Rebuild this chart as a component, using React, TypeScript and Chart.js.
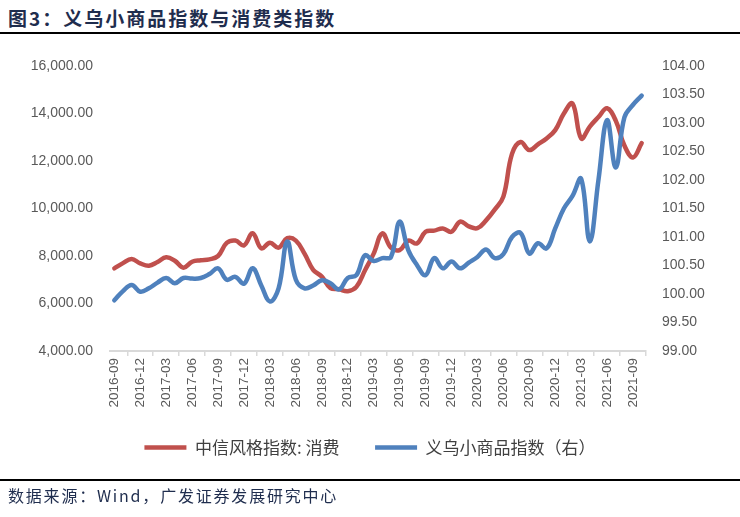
import React, { useEffect, useRef } from "react";
import { Chart, registerables } from "chart.js";

Chart.register(...registerables);

const months = [
  "2016-09", "2016-10", "2016-11", "2016-12",
  "2017-01", "2017-02", "2017-03", "2017-04", "2017-05", "2017-06",
  "2017-07", "2017-08", "2017-09", "2017-10", "2017-11", "2017-12",
  "2018-01", "2018-02", "2018-03", "2018-04", "2018-05", "2018-06",
  "2018-07", "2018-08", "2018-09", "2018-10", "2018-11", "2018-12",
  "2019-01", "2019-02", "2019-03", "2019-04", "2019-05", "2019-06",
  "2019-07", "2019-08", "2019-09", "2019-10", "2019-11", "2019-12",
  "2020-01", "2020-02", "2020-03", "2020-04", "2020-05", "2020-06",
  "2020-07", "2020-08", "2020-09", "2020-10", "2020-11", "2020-12",
  "2021-01", "2021-02", "2021-03", "2021-04", "2021-05", "2021-06",
  "2021-07", "2021-08", "2021-09", "2021-10",
];

// 中信风格指数:消费 (left axis)
const consumerIndex = [
  7480, 7700, 7870, 7690,
  7590, 7750, 7945, 7800, 7510, 7760, 7820, 7860, 8000, 8550, 8650, 8450,
  8960, 8320, 8560, 8350, 8750, 8650, 8100, 7420, 7130, 6650, 6600, 6520,
  6700, 7400, 8100, 8950, 8350, 8250, 8650, 8530, 9020, 9070, 9160, 9020,
  9450, 9250, 9170, 9500, 9950, 10500, 12300, 12800, 12460, 12700, 12950, 13300,
  14000, 14420, 12950, 13450, 13850, 14220, 13700, 12650, 12150, 12750,
];

// 义乌小商品指数 (right axis)
const yiwuIndex = [
  99.89, 100.05, 100.16, 100.04,
  100.1, 100.2, 100.28, 100.19, 100.28, 100.27, 100.28, 100.35, 100.45, 100.25, 100.3, 100.18,
  100.45, 100.15, 99.87, 100.1, 100.92, 100.25, 100.1, 100.15, 100.24, 100.19, 100.08, 100.28,
  100.33, 100.68, 100.58, 100.63, 100.65, 101.27, 100.77, 100.51, 100.33, 100.63, 100.45, 100.57,
  100.45, 100.55, 100.65, 100.78, 100.63, 100.7, 101.0, 101.07, 100.71, 100.89, 100.8, 101.15,
  101.5, 101.72, 102.02, 100.92, 102.0, 103.05, 102.22, 103.1, 103.32, 103.48,
];

const seriesNames = ["中信风格指数: 消费", "义乌小商品指数（右）"];
const seriesColors = ["#C0504D", "#4F81BD"];

const leftMin = 4000;
const leftMax = 16000;
const leftStep = 2000;
const rightMin = 99;
const rightMax = 104;
const rightStep = 0.5;

const tickFont = { family: '"Liberation Sans", Arial, sans-serif', size: 14 };
const tickColor = "#595959";

export default function App() {
  const canvasRef = useRef<HTMLCanvasElement | null>(null);

  useEffect(() => {
    if (!canvasRef.current) return;
    const chart = new Chart(canvasRef.current, {
      type: "line",
      data: {
        labels: months,
        datasets: [
          {
            label: seriesNames[0],
            data: consumerIndex,
            yAxisID: "y",
            borderColor: seriesColors[0],
            backgroundColor: seriesColors[0],
            borderWidth: 4.5,
            borderCapStyle: "round",
            borderJoinStyle: "round",
            pointRadius: 0,
            tension: 0.4,
            order: 2,
          },
          {
            label: seriesNames[1],
            data: yiwuIndex,
            yAxisID: "y1",
            borderColor: seriesColors[1],
            backgroundColor: seriesColors[1],
            borderWidth: 4.5,
            borderCapStyle: "round",
            borderJoinStyle: "round",
            pointRadius: 0,
            tension: 0.4,
            order: 1,
          },
        ],
      },
      options: {
        animation: false,
        responsive: false,
        devicePixelRatio: 1,
        layout: { padding: { top: 66, left: 0, right: 0, bottom: 51 } },
        plugins: {
          tooltip: { enabled: false },
          legend: {
            position: "bottom",
            labels: {
              usePointStyle: true,
              pointStyle: "line",
              pointStyleWidth: 42,
              padding: 28,
              color: "#404040",
              font: { family: '"Noto Sans CJK SC", sans-serif', size: 17 },
              sort: (a: any, b: any) => a.datasetIndex - b.datasetIndex,
              generateLabels: (c: any) => {
                const items = Chart.defaults.plugins.legend.labels.generateLabels(c);
                return items.map((it: any) =>
                  it.datasetIndex === 0 ? { ...it, text: it.text + "  " } : it
                );
              },
            },
          },
        },
        scales: {
          x: {
            type: "category",
            offset: true,
            grid: {
              display: true,
              offset: true,
              drawOnChartArea: false,
              drawTicks: true,
              tickLength: 5,
              color: "#D9D9D9",
              lineWidth: 1.5,
            },
            border: { display: true, color: "#D9D9D9", width: 2 },
            ticks: {
              autoSkip: false,
              maxRotation: 90,
              minRotation: 90,
              padding: 2,
              color: tickColor,
              font: { ...tickFont, size: 13.5 },
              callback: (_v: any, i: number) => (i % 3 === 0 ? months[i] : null),
            },
            afterFit: (scale: any) => {
              scale.height = 60;
            },
          },
          y: {
            position: "left",
            min: leftMin,
            max: leftMax,
            grid: { display: false, drawTicks: false },
            border: { display: false },
            ticks: {
              stepSize: leftStep,
              padding: 17,
              color: tickColor,
              font: tickFont,
              callback: (v: any) =>
                Number(v).toLocaleString("en-US", { minimumFractionDigits: 2, maximumFractionDigits: 2 }),
            },
            afterFit: (scale: any) => {
              scale.width = 110;
            },
          },
          y1: {
            position: "right",
            min: rightMin,
            max: rightMax,
            grid: { display: false, drawTicks: false },
            border: { display: false },
            ticks: {
              stepSize: rightStep,
              padding: 16,
              color: tickColor,
              font: tickFont,
              callback: (v: any) => Number(v).toFixed(2),
            },
            afterFit: (scale: any) => {
              scale.width = 94;
            },
          },
        },
      },
    } as any);
    return () => chart.destroy();
  }, []);

  return (
    <div style={{ position: "absolute", left: 0, top: 0, width: 740, height: 517, background: "#fff", overflow: "hidden" }}>
      <div
        style={{
          position: "absolute",
          left: 8,
          top: 8,
          fontFamily: '"Noto Sans CJK SC", sans-serif',
          fontWeight: 700,
          fontSize: 19,
          lineHeight: "20px",
          letterSpacing: 2,
          color: "#1F2D4E",
          whiteSpace: "nowrap",
        }}
      >
        图3：义乌小商品指数与消费类指数
      </div>
      <div style={{ position: "absolute", left: 0, top: 32, width: 740, height: 2, background: "#000" }} />
      <canvas ref={canvasRef} width={740} height={517} style={{ position: "absolute", left: 0, top: 0, width: 740, height: 517 }} />
      <div style={{ position: "absolute", left: 0, top: 479, width: 740, height: 2, background: "#000" }} />
      <div
        style={{
          position: "absolute",
          left: 8,
          top: 486,
          fontFamily: '"Noto Sans CJK SC", sans-serif',
          fontSize: 16,
          lineHeight: "18px",
          letterSpacing: 1.8,
          color: "#1F2D4E",
          whiteSpace: "nowrap",
        }}
      >
        数据来源：Wind，广发证券发展研究中心
      </div>
    </div>
  );
}
